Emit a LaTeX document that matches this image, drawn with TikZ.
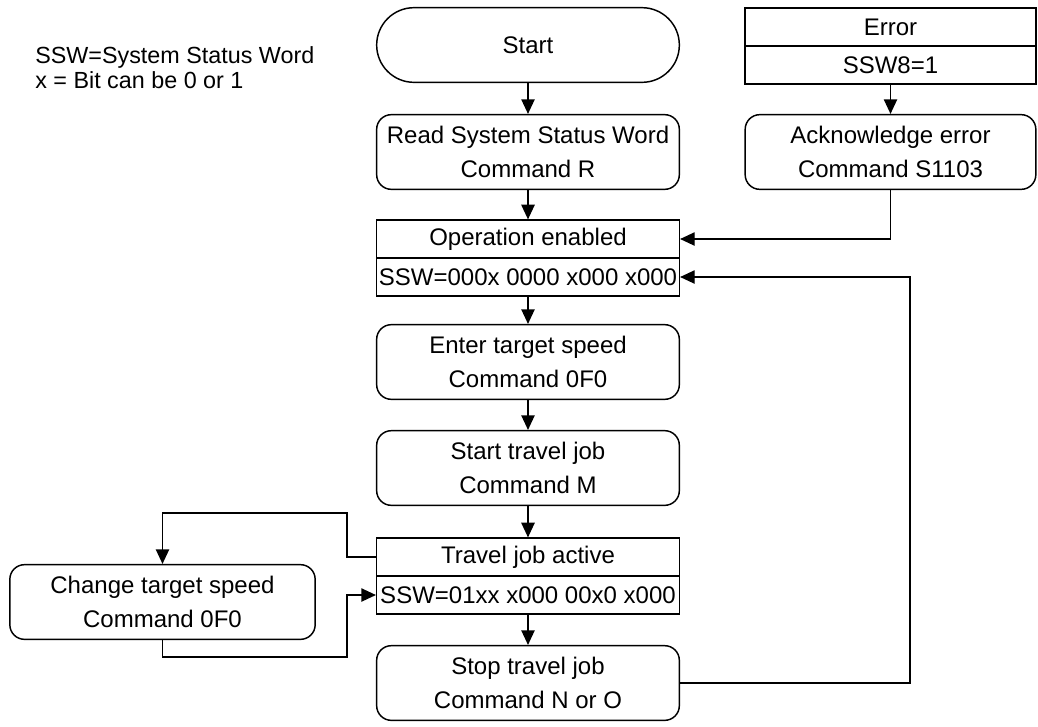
\documentclass[tikz,border=0pt]{standalone}
\usepackage{fontspec}
\setmainfont{Liberation Sans}
\usetikzlibrary{arrows.meta}

\tikzset{
  flow/.style={-{Triangle[length=11pt,width=10pt]}, line width=1.1pt},
  stepbox/.style={draw, line width=1.1pt, rounded corners=11pt, minimum width=227pt,
    minimum height=56pt, align=center, inner sep=0pt,
    font=\fontsize{18}{25}\selectfont},
  cell/.style={draw, line width=1.1pt, minimum width=227pt, minimum height=28.3pt,
    inner sep=0pt, font=\fontsize{18}{20}\selectfont},
  legend/.style={anchor=west, inner sep=0pt, font=\fontsize{17.5}{20}\selectfont}
}

\begin{document}
\begin{tikzpicture}[x=0.75pt, y=-0.75pt]
    \useasboundingbox (0,0) rectangle (1038,726);

    % legend
    \node[legend] (legendssw) at (35,57) {SSW=System Status Word};
    \node[legend] (legendbit) at (35,80) {x = Bit can be 0 or 1};

    % main column
    \node[stepbox, rounded corners=28pt] (start) at (528,45) {Start};
    \node[stepbox] (read) at (528,152) {Read System Status Word\\Command R};
    \node[cell] (optitle) at (528,239) {Operation enabled};
    \node[cell] (opssw) at (528,277) {SSW=000x 0000 x000 x000};
    \node[stepbox] (speed) at (528,362) {Enter target speed\\Command 0F0};
    \node[stepbox] (job) at (528,468) {Start travel job\\Command M};
    \node[cell] (acttitle) at (528,557) {Travel job active};
    \node[cell] (actssw) at (528,595) {SSW=01xx x000 00x0 x000};
    \node[stepbox] (stop) at (528,683) {Stop travel job\\Command N or O};

    % error branch
    \node[cell, minimum width=218pt] (errtitle) at (890.5,27) {Error};
    \node[cell, minimum width=218pt] (errssw) at (890.5,65) {SSW8=1};
    \node[stepbox, minimum width=218pt] (ack) at (890.5,152) {Acknowledge error\\Command S1103};

    % speed change loop
    \node[stepbox, minimum width=229pt] (change) at (162.5,602) {Change target speed\\Command 0F0};
    \coordinate (loopup) at (347,513);
    \coordinate (loopdown) at (347,657);

    \draw[flow] (start) -- (read);
    \draw[flow] (read) -- (optitle);
    \draw[flow] (opssw) -- (speed);
    \draw[flow] (speed) -- (job);
    \draw[flow] (job) -- (acttitle);
    \draw[flow] (actssw) -- (stop);

    \draw[flow] (errssw) -- (ack);
    \draw[flow] (ack.south) |- (optitle.east);
    \draw[flow] (stop.east) -- ++(230,0) |- (opssw.east);

    \draw[flow] (acttitle.west) -| (loopup) -| (change.north);
    \draw[flow] (change.south) |- (loopdown) |- (actssw.west);
\end{tikzpicture}
\end{document}
